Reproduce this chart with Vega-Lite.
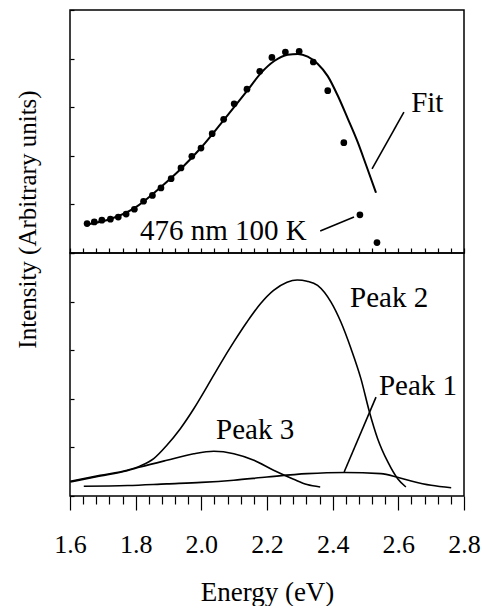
{
  "$schema": "https://vega.github.io/schema/vega-lite/v6.json",
  "padding": {"left": 14, "top": 8, "right": 0, "bottom": 0},
  "spacing": 0,
  "bounds": "flush",
  "config": {
    "font": "'Liberation Serif', 'Times New Roman', serif",
    "view": {"stroke": "black", "strokeWidth": 1.5},
    "axis": {"grid": false, "domain": false, "tickColor": "black", "labelColor": "black", "titleColor": "black", "titleFontWeight": "normal", "labelFont": "'Liberation Serif', 'Times New Roman', serif", "titleFont": "'Liberation Serif', 'Times New Roman', serif", "tickWidth": 1.2}
  },
  "datasets": {
    "dots": [
      {"E": 1.652, "I": 12.1}, {"E": 1.674, "I": 12.8}, {"E": 1.697, "I": 13.5}, {"E": 1.723, "I": 13.9},
      {"E": 1.747, "I": 14.8}, {"E": 1.771, "I": 16.0}, {"E": 1.796, "I": 18.0}, {"E": 1.824, "I": 21.3},
      {"E": 1.851, "I": 23.7}, {"E": 1.877, "I": 26.8}, {"E": 1.908, "I": 30.6}, {"E": 1.938, "I": 35.0},
      {"E": 1.971, "I": 39.8}, {"E": 1.999, "I": 43.2}, {"E": 2.033, "I": 49.1}, {"E": 2.068, "I": 55.0},
      {"E": 2.100, "I": 61.4}, {"E": 2.139, "I": 67.4}, {"E": 2.178, "I": 74.8}, {"E": 2.215, "I": 80.5},
      {"E": 2.256, "I": 82.7}, {"E": 2.298, "I": 83.0}, {"E": 2.341, "I": 78.6}, {"E": 2.385, "I": 66.8},
      {"E": 2.434, "I": 45.4}, {"E": 2.483, "I": 15.7}, {"E": 2.535, "I": 4.3}
    ],
    "fit": [
      {"E": 1.652, "I": 11.7}, {"E": 1.725, "I": 14.1}, {"E": 1.796, "I": 18.5}, {"E": 1.877, "I": 27.2},
      {"E": 1.938, "I": 34.7}, {"E": 1.999, "I": 43.3}, {"E": 2.070, "I": 55.0}, {"E": 2.141, "I": 67.0},
      {"E": 2.182, "I": 74.1}, {"E": 2.222, "I": 79.0}, {"E": 2.263, "I": 81.6}, {"E": 2.294, "I": 81.9},
      {"E": 2.324, "I": 80.8}, {"E": 2.354, "I": 77.9}, {"E": 2.385, "I": 72.8}, {"E": 2.415, "I": 64.9},
      {"E": 2.446, "I": 55.3}, {"E": 2.476, "I": 45.7}, {"E": 2.502, "I": 36.1}, {"E": 2.532, "I": 24.8}
    ],
    "topLabels": [
      {"label": "Fit", "E": 2.639, "I": 58.0},
      {"label": "476 nm 100 K", "E": 1.813, "I": 5.4}
    ],
    "topLeaders": [
      {"E": 2.617, "I": 58.0, "E2": 2.520, "I2": 34.6},
      {"E": 2.362, "I": 9.1, "E2": 2.465, "I2": 14.8}
    ],
    "peaks": [
      {"peak": "Peak 2", "E": 1.601, "I": 6.05}, {"peak": "Peak 2", "E": 1.692, "I": 8.5},
      {"peak": "Peak 2", "E": 1.774, "I": 10.6}, {"peak": "Peak 2", "E": 1.814, "I": 12.4},
      {"peak": "Peak 2", "E": 1.855, "I": 15.4}, {"peak": "Peak 2", "E": 1.895, "I": 20.9},
      {"peak": "Peak 2", "E": 1.936, "I": 27.7}, {"peak": "Peak 2", "E": 1.977, "I": 35.9},
      {"peak": "Peak 2", "E": 2.017, "I": 44.9}, {"peak": "Peak 2", "E": 2.058, "I": 54.4},
      {"peak": "Peak 2", "E": 2.099, "I": 63.4}, {"peak": "Peak 2", "E": 2.139, "I": 71.6},
      {"peak": "Peak 2", "E": 2.180, "I": 79.1}, {"peak": "Peak 2", "E": 2.220, "I": 84.6},
      {"peak": "Peak 2", "E": 2.261, "I": 88.0}, {"peak": "Peak 2", "E": 2.292, "I": 88.9},
      {"peak": "Peak 2", "E": 2.322, "I": 88.4}, {"peak": "Peak 2", "E": 2.354, "I": 86.7},
      {"peak": "Peak 2", "E": 2.395, "I": 79.8}, {"peak": "Peak 2", "E": 2.425, "I": 71.6},
      {"peak": "Peak 2", "E": 2.456, "I": 60.6}, {"peak": "Peak 2", "E": 2.486, "I": 48.3},
      {"peak": "Peak 2", "E": 2.512, "I": 34.6}, {"peak": "Peak 2", "E": 2.537, "I": 23.6},
      {"peak": "Peak 2", "E": 2.568, "I": 14.0}, {"peak": "Peak 2", "E": 2.598, "I": 7.1},
      {"peak": "Peak 2", "E": 2.623, "I": 3.7},
      {"peak": "Peak 3", "E": 1.601, "I": 5.8}, {"peak": "Peak 3", "E": 1.692, "I": 8.2},
      {"peak": "Peak 3", "E": 1.774, "I": 10.4}, {"peak": "Peak 3", "E": 1.814, "I": 11.9},
      {"peak": "Peak 3", "E": 1.895, "I": 14.7}, {"peak": "Peak 3", "E": 1.977, "I": 17.4},
      {"peak": "Peak 3", "E": 2.038, "I": 18.4}, {"peak": "Peak 3", "E": 2.099, "I": 17.4},
      {"peak": "Peak 3", "E": 2.160, "I": 14.7}, {"peak": "Peak 3", "E": 2.220, "I": 10.6},
      {"peak": "Peak 3", "E": 2.281, "I": 6.9}, {"peak": "Peak 3", "E": 2.322, "I": 4.7},
      {"peak": "Peak 3", "E": 2.362, "I": 3.7},
      {"peak": "Peak 1", "E": 1.642, "I": 4.0}, {"peak": "Peak 1", "E": 1.776, "I": 4.3},
      {"peak": "Peak 1", "E": 1.895, "I": 5.0}, {"peak": "Peak 1", "E": 2.000, "I": 5.6},
      {"peak": "Peak 1", "E": 2.099, "I": 6.5}, {"peak": "Peak 1", "E": 2.200, "I": 7.8},
      {"peak": "Peak 1", "E": 2.322, "I": 9.2}, {"peak": "Peak 1", "E": 2.436, "I": 9.7},
      {"peak": "Peak 1", "E": 2.547, "I": 9.2}, {"peak": "Peak 1", "E": 2.600, "I": 7.6},
      {"peak": "Peak 1", "E": 2.639, "I": 6.2}, {"peak": "Peak 1", "E": 2.700, "I": 4.4},
      {"peak": "Peak 1", "E": 2.761, "I": 3.4}
    ],
    "bottomLabels": [
      {"label": "Peak 2", "E": 2.453, "I": 77.8},
      {"label": "Peak 1", "E": 2.541, "I": 41.6},
      {"label": "Peak 3", "E": 2.045, "I": 23.5}
    ],
    "bottomLeaders": [
      {"E": 2.532, "I": 40.7, "E2": 2.435, "I2": 9.9}
    ]
  },
  "vconcat": [
    {
      "width": 394,
      "height": 243,
      "encoding": {
        "x": {"field": "E", "type": "quantitative", "scale": {"domain": [1.6, 2.8], "nice": false, "zero": false},
              "axis": {"labels": false, "title": null, "tickSize": -5, "values": [1.6, 1.64, 1.68, 1.72, 1.76, 1.8, 1.84, 1.88, 1.92, 1.96, 2.0, 2.04, 2.08, 2.12, 2.16, 2.2, 2.24, 2.28, 2.32, 2.36, 2.4, 2.44, 2.48, 2.52, 2.56, 2.6, 2.64, 2.68, 2.72, 2.76, 2.8]}},
        "y": {"field": "I", "type": "quantitative", "scale": {"domain": [0, 100], "nice": false},
              "axis": {"labels": false, "tickSize": -4, "tickCount": 5, "title": "Intensity (Arbitrary units)", "titleX": -35, "titleY": 209, "titleAngle": 270, "titleAlign": "center", "titleBaseline": "alphabetic", "titleFontSize": 25}}
      },
      "layer": [
        {"data": {"name": "fit"}, "mark": {"type": "line", "color": "black", "strokeWidth": 2, "interpolate": "monotone"}},
        {"data": {"name": "dots"}, "mark": {"type": "point", "filled": true, "color": "black", "size": 45, "opacity": 1}},
        {"data": {"name": "topLeaders"}, "mark": {"type": "rule", "color": "black", "strokeWidth": 1.6},
         "encoding": {"x2": {"field": "E2"}, "y2": {"field": "I2"}}},
        {"data": {"name": "topLabels"}, "mark": {"type": "text", "align": "left", "baseline": "alphabetic", "fontSize": 29, "font": "'Liberation Serif', 'Times New Roman', serif", "color": "black"},
         "encoding": {"text": {"field": "label"}}}
      ]
    },
    {
      "width": 394,
      "height": 243,
      "encoding": {
        "x": {"field": "E", "type": "quantitative", "scale": {"domain": [1.6, 2.8], "nice": false, "zero": false},
              "axis": {"title": "Energy (eV)", "titleFontSize": 27, "titlePadding": 22, "labelFontSize": 26, "labelPadding": 21, "labelFlush": false, "labelOverlap": false, "labelBound": false,
                       "values": [1.6, 1.64, 1.68, 1.72, 1.76, 1.8, 1.84, 1.88, 1.92, 1.96, 2.0, 2.04, 2.08, 2.12, 2.16, 2.2, 2.24, 2.28, 2.32, 2.36, 2.4, 2.44, 2.48, 2.52, 2.56, 2.6, 2.64, 2.68, 2.72, 2.76, 2.8],
                       "labelExpr": "abs(datum.value*5-round(datum.value*5))<0.001 ? format(datum.value, '.1f') : ''",
                       "tickSize": {"condition": {"test": "abs(datum.value*5-round(datum.value*5))<0.001", "value": 14}, "value": 8}}},
        "y": {"field": "I", "type": "quantitative", "scale": {"domain": [0, 100], "nice": false},
              "axis": {"labels": false, "tickSize": -4, "tickCount": 5, "title": null}}
      },
      "layer": [
        {"data": {"name": "peaks"}, "mark": {"type": "line", "color": "black", "strokeWidth": 1.6, "interpolate": "monotone"},
         "encoding": {"detail": {"field": "peak"}}},
        {"data": {"name": "bottomLeaders"}, "mark": {"type": "rule", "color": "black", "strokeWidth": 1.6},
         "encoding": {"x2": {"field": "E2"}, "y2": {"field": "I2"}}},
        {"data": {"name": "bottomLabels"}, "mark": {"type": "text", "align": "left", "baseline": "alphabetic", "fontSize": 29, "font": "'Liberation Serif', 'Times New Roman', serif", "color": "black"},
         "encoding": {"text": {"field": "label"}}}
      ]
    }
  ]
}
